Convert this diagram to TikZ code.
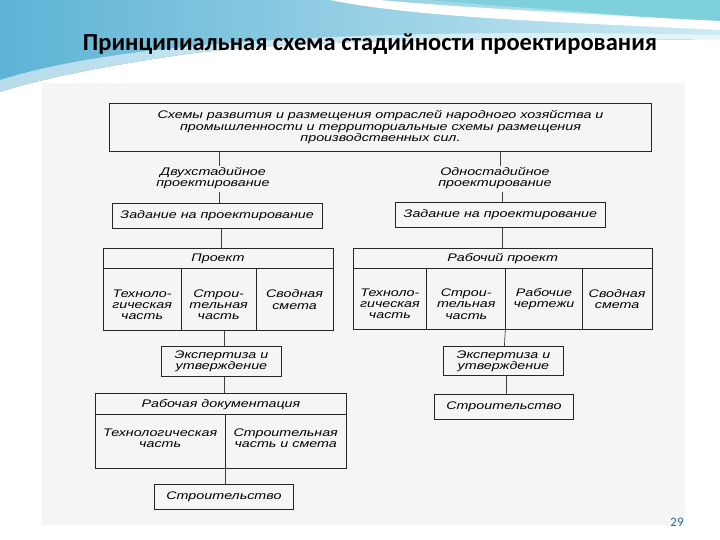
\documentclass[tikz,border=0pt]{standalone}
\usepackage{fontspec}
\setmainfont{Liberation Sans}
\newfontfamily\diagfont[FakeStretch=1.3]{Liberation Sans}
\newfontfamily\titlefont{Carlito}
\newcommand\dgtxt{\diagfont\itshape\fontsize{11}{11.3}\selectfont}
\definecolor{bluedark}{HTML}{5DB3D5}
\definecolor{bluelight}{HTML}{CDEBF3}
\definecolor{tealc}{HTML}{7FD0DD}
\definecolor{pagenum}{HTML}{2F6E8E}
\definecolor{scan}{HTML}{F5F5F5}
\begin{document}
\begin{tikzpicture}[x=1pt,y=-1pt,
  box/.style={draw=black!85, line width=0.9pt, inner sep=0pt, anchor=north west, align=center, font=\dgtxt},
  txt/.style={inner sep=0pt, align=center, font=\dgtxt},
  conn/.style={draw=black!75, line width=0.7pt}]
\useasboundingbox (0,0) rectangle (720,540);
% background
\fill[white] (0,0) rectangle (720,540);
\fill[left color=bluedark, right color=bluelight] (0,0) -- (720,0) -- (720,40) .. controls (520,38) and (300,38) .. (180,55) .. controls (90,68) and (30,82) .. (0,92) -- cycle;
\fill[white, opacity=0.55] (0,80) .. controls (80,55) and (250,25) .. (720,35) -- (720,70) -- (0,100) -- cycle;
\fill[tealc] (430,0) -- (720,0) -- (720,24) .. controls (620,14) and (520,8) .. (430,0) -- cycle;
\fill[white] (330,0) .. controls (420,18) and (560,22) .. (720,30) -- (720,21) .. controls (580,14) and (440,6) .. (380,0) -- cycle;
\fill[scan] (42,83) rectangle (685,525);
% title
\node[inner sep=0pt, font=\titlefont\bfseries\fontsize{24.5}{27}\selectfont] (title) at (370,44) {Принципиальная схема стадийности проектирования};
\node[inner sep=0pt, font=\titlefont\fontsize{13}{14}\selectfont, text=pagenum] (pnum) at (677,522) {29};
% top
\node[box, minimum width=541.5pt, minimum height=48.3pt] (top) at (109.3,102.7) {Схемы развития и размещения отраслей народного хозяйства и\\промышленности и территориальные схемы размещения\\производственных сил.};
\node[txt] (dvuh) at (213,178.4) {Двухстадийное\\проектирование};
\node[txt] (odno) at (495,178.4) {Одностадийное\\проектирование};
% left branch
\node[box, minimum width=210.5pt, minimum height=25pt] (zad1) at (111.5,202.7) {Задание на проектирование};
\node[box, minimum width=229.9pt, minimum height=20pt] (proj) at (102.6,248.3) {Проект};
\node[box, minimum width=78.1pt, minimum height=61.7pt] (p1) at (102.6,268.3) {};
\node[box, minimum width=75pt, minimum height=61.7pt] (p2) at (180.7,268.3) {};
\node[box, minimum width=76.8pt, minimum height=61.7pt] (p3) at (255.7,268.3) {};
\node[txt] (p1t) at ([yshift=-5pt]p1.center) {Техноло-\\гическая\\часть};
\node[txt] (p2t) at ([yshift=-5pt]p2.center) {Строи-\\тельная\\часть};
\node[txt] (p3t) at ([yshift=0pt]p3.center) {Сводная\\смета};
\node[box, minimum width=120pt, minimum height=30pt] (eksp1) at (161,346) {Экспертиза и\\утверждение};
\node[box, minimum width=251pt, minimum height=21pt] (rdoc) at (95,393.3) {Рабочая документация};
\node[box, minimum width=129.5pt, minimum height=53.4pt] (rd1) at (95,414.3) {};
\node[box, minimum width=121.5pt, minimum height=53.4pt] (rd2) at (224.5,414.3) {};
\node[txt] (rd1t) at ([yshift=3pt]rd1.center) {Технологическая\\часть};
\node[txt] (rd2t) at ([yshift=3pt]rd2.center) {Строительная\\часть и смета};
\node[box, minimum width=139pt, minimum height=25pt] (str1) at (154,484.3) {Строительство};
% right branch
\node[box, minimum width=210pt, minimum height=25.3pt] (zad2) at (395,201.7) {Задание на проектирование};
\node[box, minimum width=299.1pt, minimum height=20pt] (rp) at (352.6,247.7) {Рабочий проект};
\node[box, minimum width=73.7pt, minimum height=61.6pt] (r1) at (352.6,267.7) {};
\node[box, minimum width=79pt, minimum height=61.6pt] (r2) at (426.3,267.7) {};
\node[box, minimum width=76.3pt, minimum height=61.6pt] (r3) at (505.3,267.7) {};
\node[box, minimum width=70.1pt, minimum height=61.6pt] (r4) at (581.6,267.7) {};
\node[txt] (r1t) at ([yshift=-5pt]r1.center) {Техноло-\\гическая\\часть};
\node[txt] (r2t) at ([yshift=-5pt]r2.center) {Строи-\\тельная\\часть};
\node[txt] (r3t) at (r3.center) {Рабочие\\чертежи};
\node[txt] (r4t) at (r4.center) {Сводная\\смета};
\node[box, minimum width=120pt, minimum height=29pt] (eksp2) at (443,346) {Экспертиза и\\утверждение};
\node[box, minimum width=139pt, minimum height=24.7pt] (str2) at (434,394.3) {Строительство};
% connector x positions
\coordinate (xa) at (219.6,0);
\coordinate (xb) at (221.8,0);
\coordinate (xc) at (224,0);
\coordinate (ya) at (500,0);
\coordinate (yb) at (502,0);
\coordinate (yc) at (504.4,0);
\coordinate (yd) at (506.6,0);
% connectors left
\draw[conn] (top.south -| xa) -- ([yshift=1pt]dvuh.north -| xa);
\draw[conn] ([yshift=-3pt]dvuh.south -| xa) -- (zad1.north -| xa);
\draw[conn] (zad1.south -| xb) -- (proj.north -| xb);
\draw[conn] (p2.south -| xc) -- (eksp1.north -| xc);
\draw[conn] (eksp1.south -| xc) -- (rdoc.north -| xc);
\draw[conn] (rd1.south east) -- (str1.north -| rd1.south east);
% connectors right
\draw[conn] (top.south -| ya) -- ([yshift=1pt]odno.north -| ya);
\draw[conn] ([yshift=-3pt]odno.south -| yb) -- (zad2.north -| yb);
\draw[conn] (zad2.south -| yb) -- (rp.north -| yb);
\draw[conn] (r2.south east) ++(-0.9,0) -- (eksp2.north -| yc);
\draw[conn] (eksp2.south -| yd) -- (str2.north -| yd);
\end{tikzpicture}
\end{document}
